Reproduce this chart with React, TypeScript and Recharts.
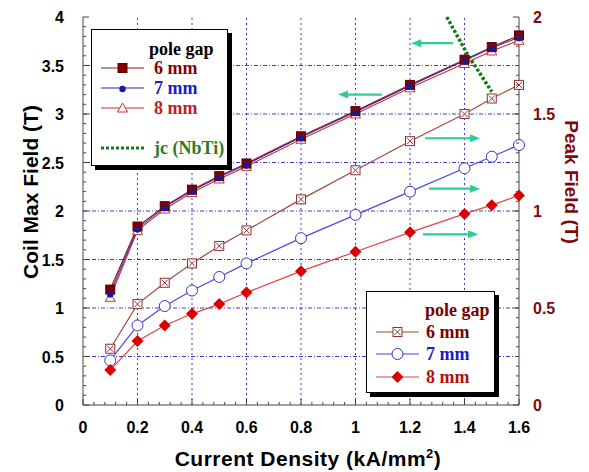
import { LineChart, Line, XAxis, YAxis, ReferenceLine } from 'recharts';

const currentDensity = [0.1, 0.2, 0.3, 0.4, 0.5, 0.6, 0.8, 1.0, 1.2, 1.4, 1.5, 1.6];
const coilMax6mm = [1.19, 1.84, 2.05, 2.22, 2.36, 2.49, 2.77, 3.03, 3.3, 3.56, 3.69, 3.81];
const coilMax7mm = [1.15, 1.82, 2.04, 2.21, 2.35, 2.48, 2.76, 3.02, 3.29, 3.55, 3.68, 3.79];
const coilMax8mm = [1.11, 1.8, 2.02, 2.19, 2.33, 2.46, 2.74, 3.0, 3.27, 3.52, 3.65, 3.76];
const peak6mm = [0.29, 0.52, 0.63, 0.73, 0.82, 0.9, 1.06, 1.21, 1.36, 1.5, 1.58, 1.65];
const peak7mm = [0.23, 0.41, 0.51, 0.59, 0.66, 0.73, 0.86, 0.98, 1.1, 1.22, 1.28, 1.34];
const peak8mm = [0.18, 0.33, 0.41, 0.47, 0.52, 0.58, 0.69, 0.79, 0.89, 0.985, 1.03, 1.08];

// jc(NbTi) limit curve, on the left axis
const jcCurrent = [1.335, 1.41, 1.5];
const jcField = [4.0, 3.62, 3.23];

// arrows telling which axis a family belongs to (left-axis units)
const arrowLevel = [3.73, 3.2, 2.75, 2.23, 1.76];
const arrowStart = [1.358, 1.097, 1.255, 1.27, 1.248];
const arrowEnd = [1.204, 0.936, 1.457, 1.457, 1.45];

const xTickLabels = ['0', '0.2', '0.4', '0.6', '0.8', '1', '1.2', '1.4', '1.6'];
const leftTickLabels = ['0', '0.5', '1', '1.5', '2', '2.5', '3', '3.5', '4'];
const rightTickLabels = ['0', '0.5', '1', '1.5', '2'];
const xGrid = [0.2, 0.4, 0.6, 0.8, 1.0, 1.2, 1.4];
const yGrid = [0.5, 1, 1.5, 2, 2.5, 3, 3.5];

const data = currentDensity.map((x, i) => ({
  x,
  c6: coilMax6mm[i],
  c7: coilMax7mm[i],
  c8: coilMax8mm[i],
  p6: peak6mm[i],
  p7: peak7mm[i],
  p8: peak8mm[i],
}));
const jcData = jcCurrent.map((x, i) => ({ x, y: jcField[i] }));

const xTicks = Array.from({ length: 41 }, (_, i) => +(i * 0.04).toFixed(2));
const leftTicks = Array.from({ length: 41 }, (_, i) => +(i * 0.1).toFixed(2));
const rightTicks = Array.from({ length: 41 }, (_, i) => +(i * 0.05).toFixed(3));

const isMajor = (v: number, step: number) => Math.abs(v / step - Math.round(v / step)) < 1e-6;

const AXIS = '#444';
const DARKRED = '#7d0a0a';
const tickFont = { fontFamily: 'Liberation Sans, Arial, sans-serif', fontWeight: 700, fontSize: 16 };

const BottomTick = (p: any) => {
  const v = p.payload.value;
  const major = isMajor(v, 0.2);
  return (
    <g>
      <line x1={p.x} x2={p.x} y1={p.y} y2={p.y - (major ? 6 : 3)} stroke={AXIS} />
      {major && (
        <text x={p.x} y={p.y + 28} textAnchor="middle" fill="#000" style={tickFont}>
          {xTickLabels[Math.round(v / 0.2)]}
        </text>
      )}
    </g>
  );
};

const TopTick = (p: any) => {
  const major = isMajor(p.payload.value, 0.2);
  return <line x1={p.x} x2={p.x} y1={p.y} y2={p.y + (major ? 6 : 3)} stroke={AXIS} />;
};

const LeftTick = (p: any) => {
  const v = p.payload.value;
  const major = isMajor(v, 0.5);
  return (
    <g>
      <line x1={p.x} x2={p.x + (major ? 6 : 3)} y1={p.y} y2={p.y} stroke={AXIS} />
      {major && (
        <text x={p.x - 19} y={p.y + 6} textAnchor="end" fill="#000" style={tickFont}>
          {leftTickLabels[Math.round(v / 0.5)]}
        </text>
      )}
    </g>
  );
};

const RightTick = (p: any) => {
  const v = p.payload.value;
  const major = isMajor(v, 0.5);
  return (
    <g>
      <line x1={p.x} x2={p.x - (major ? 6 : 3)} y1={p.y} y2={p.y} stroke={AXIS} />
      {major && (
        <text x={p.x + 14} y={p.y + 6} textAnchor="start" fill={DARKRED} style={tickFont}>
          {rightTickLabels[Math.round(v / 0.5)]}
        </text>
      )}
    </g>
  );
};

// marker shapes
const FilledSquare = ({ cx, cy }: any) => (
  <rect x={cx - 4.5} y={cy - 4.5} width={9} height={9} fill="#800000" stroke="#600000" />
);
const SmallCircle = ({ cx, cy }: any) => <circle cx={cx} cy={cy + 1} r={3.2} fill="#1a1a99" />;
const OpenTriangle = ({ cx, cy }: any) => (
  <polygon
    points={`${cx},${cy - 5} ${cx - 5},${cy + 4} ${cx + 5},${cy + 4}`}
    fill="#fff"
    stroke="#cc3333"
  />
);
const CrossSquare = ({ cx, cy }: any) => (
  <g>
    <rect x={cx - 4.5} y={cy - 4.5} width={9} height={9} fill="#fff" stroke="#8b3030" />
    <line x1={cx - 3} y1={cy - 3} x2={cx + 3} y2={cy + 3} stroke="#8b3030" />
    <line x1={cx - 3} y1={cy + 3} x2={cx + 3} y2={cy - 3} stroke="#8b3030" />
  </g>
);
const OpenCircle = ({ cx, cy }: any) => <circle cx={cx} cy={cy} r={5.5} fill="#fff" stroke="#3333cc" />;
const Diamond = ({ cx, cy }: any) => (
  <polygon points={`${cx},${cy - 6} ${cx + 6},${cy} ${cx},${cy + 6} ${cx - 6},${cy}`} fill="#dd0000" />
);

const dotOf = (Shape: any) => (p: any) => <Shape key={`d${p.index}`} cx={p.cx} cy={p.cy} />;

const ArrowShape = (p: any) => {
  const dir = p.x2 > p.x1 ? 1 : -1;
  const tip = p.x2;
  return (
    <g>
      <line x1={p.x1} y1={p.y1} x2={tip - dir * 8} y2={p.y2} stroke="#2ecc98" strokeWidth={2.2} />
      <polygon
        points={`${tip},${p.y2} ${tip - dir * 10},${p.y2 - 4} ${tip - dir * 10},${p.y2 + 4}`}
        fill="#2ecc98"
      />
    </g>
  );
};

const legendText = {
  fontFamily: 'Liberation Serif, Times New Roman, serif',
  fontWeight: 700,
  fontSize: 18,
};

const LegendRow = ({ color, Shape, label, labelColor, top, left, gap, dashed }: any) => (
  <div style={{ position: 'absolute', top, left, display: 'flex', alignItems: 'center', height: 16 }}>
    <svg width={43} height={14} style={{ display: 'block' }}>
      <line
        x1={0}
        x2={43}
        y1={7}
        y2={7}
        stroke={color}
        strokeWidth={dashed ? 3 : 1.2}
        strokeDasharray={dashed ? '3 2' : undefined}
      />
      {Shape && <Shape cx={21.5} cy={7} />}
    </svg>
    <span style={{ ...legendText, color: labelColor, marginLeft: gap, whiteSpace: 'nowrap', lineHeight: '16px' }}>
      {label}
    </span>
  </div>
);

const boxStyle: any = {
  position: 'absolute',
  background: '#fff',
  border: '1.5px solid #000',
  boxShadow: '4px 4px 0 #000',
  boxSizing: 'border-box',
};

const titleFont: any = {
  position: 'absolute',
  whiteSpace: 'nowrap',
  fontFamily: 'Liberation Sans, Arial, sans-serif',
  fontWeight: 700,
};

export default function App() {
  return (
    <div style={{ position: 'absolute', left: 0, top: 0, width: 589, height: 472, background: '#fff' }}>
      <LineChart width={589} height={472} data={data} margin={{ top: 17, right: 0, bottom: 0, left: 0 }}>
        <XAxis
          xAxisId="bottom"
          dataKey="x"
          type="number"
          domain={[0, 1.6]}
          ticks={xTicks}
          interval={0}
          height={67}
          tickSize={0}
          tickMargin={0}
          tickLine={false}
          stroke={AXIS}
          tick={BottomTick}
        />
        <XAxis
          xAxisId="top"
          dataKey="x"
          type="number"
          orientation="top"
          domain={[0, 1.6]}
          ticks={xTicks}
          interval={0}
          height={0}
          tickSize={0}
          tickMargin={0}
          tickLine={false}
          stroke={AXIS}
          tick={TopTick}
        />
        <YAxis
          yAxisId="left"
          type="number"
          domain={[0, 4]}
          ticks={leftTicks}
          interval={0}
          width={83}
          tickSize={0}
          tickMargin={0}
          tickLine={false}
          stroke={AXIS}
          tick={LeftTick}
        />
        <YAxis
          yAxisId="right"
          orientation="right"
          type="number"
          domain={[0, 2]}
          ticks={rightTicks}
          interval={0}
          width={70}
          tickSize={0}
          tickMargin={0}
          tickLine={false}
          stroke={AXIS}
          tick={RightTick}
        />

        {xGrid.map((v) => (
          <ReferenceLine
            key={`gx${v}`}
            x={v}
            xAxisId="bottom"
            yAxisId="left"
            stroke="#3a3ad0"
            strokeDasharray="2 3"
          />
        ))}
        {yGrid.map((v) => (
          <ReferenceLine
            key={`gy${v}`}
            y={v}
            xAxisId="bottom"
            yAxisId="left"
            stroke="#3a3ad0"
            strokeDasharray="4 2 1 2"
          />
        ))}

        <Line xAxisId="bottom" yAxisId="right" dataKey="p6" stroke="#a0483c" strokeWidth={1.2} dot={dotOf(CrossSquare)} isAnimationActive={false} />
        <Line xAxisId="bottom" yAxisId="right" dataKey="p7" stroke="#4a4ad8" strokeWidth={1.2} dot={dotOf(OpenCircle)} isAnimationActive={false} />
        <Line xAxisId="bottom" yAxisId="right" dataKey="p8" stroke="#e04444" strokeWidth={1.2} dot={dotOf(Diamond)} isAnimationActive={false} />

        <Line xAxisId="bottom" yAxisId="left" dataKey="c8" stroke="#cc3333" strokeWidth={1.2} dot={dotOf(OpenTriangle)} isAnimationActive={false} />
        <Line xAxisId="bottom" yAxisId="left" dataKey="c6" stroke="#8b1a1a" strokeWidth={1.2} dot={dotOf(FilledSquare)} isAnimationActive={false} />
        <Line xAxisId="bottom" yAxisId="left" dataKey="c7" stroke="#2222cc" strokeWidth={1} dot={dotOf(SmallCircle)} isAnimationActive={false} />

        <Line
          xAxisId="bottom"
          yAxisId="left"
          data={jcData}
          dataKey="y"
          stroke="#137a13"
          strokeWidth={3.5}
          strokeDasharray="3 2"
          dot={false}
          isAnimationActive={false}
        />

        {arrowLevel.map((y, i) => (
          <ReferenceLine
            key={`ar${i}`}
            xAxisId="bottom"
            yAxisId="left"
            segment={[
              { x: arrowStart[i], y },
              { x: arrowEnd[i], y },
            ]}
            stroke="#2ecc98"
            shape={ArrowShape}
          />
        ))}
      </LineChart>

      {/* axis titles */}
      <div style={{ ...titleFont, left: 31, top: 192, fontSize: 21, color: '#000', transform: 'translate(-50%, -50%) rotate(-90deg)' }}>
        Coil Max Field (T)
      </div>
      <div style={{ ...titleFont, left: 571, top: 182, fontSize: 19, color: DARKRED, transform: 'translate(-50%, -50%) rotate(90deg)' }}>
        Peak Field (T)
      </div>
      <div style={{ ...titleFont, left: 308, top: 458, fontSize: 21, letterSpacing: 0.5, color: '#000', transform: 'translate(-50%, -50%)' }}>
        Current Density (kA/mm<sup style={{ fontSize: 13 }}>2</sup>)
      </div>

      {/* coil max field legend */}
      <div style={{ ...boxStyle, left: 91, top: 29, width: 137, height: 137 }}>
        <div style={{ ...legendText, position: 'absolute', top: 9, left: 57, whiteSpace: 'nowrap' }}>pole gap</div>
        <LegendRow top={30} left={9} gap={10} color="#8b1a1a" Shape={FilledSquare} label="6 mm" labelColor="#8b0000" />
        <LegendRow top={50} left={9} gap={10} color="#2222cc" Shape={SmallCircle} label="7 mm" labelColor="#1a1acc" />
        <LegendRow top={70} left={9} gap={10} color="#cc3333" Shape={OpenTriangle} label="8 mm" labelColor="#c02020" />
        <LegendRow top={110} left={9} gap={10} color="#137a13" dashed label="jc (NbTi)" labelColor="#2a7a2a" />
      </div>

      {/* peak field legend */}
      <div style={{ ...boxStyle, left: 366, top: 291, width: 129, height: 102 }}>
        <div style={{ ...legendText, color: '#7a0000', position: 'absolute', top: 8, left: 58, whiteSpace: 'nowrap' }}>
          pole gap
        </div>
        <LegendRow top={32} left={9} gap={7} color="#a0483c" Shape={CrossSquare} label="6 mm" labelColor="#7a0000" />
        <LegendRow top={54} left={9} gap={7} color="#4a4ad8" Shape={OpenCircle} label="7 mm" labelColor="#1a1acc" />
        <LegendRow top={77} left={9} gap={7} color="#e04444" Shape={Diamond} label="8 mm" labelColor="#b01010" />
      </div>
    </div>
  );
}
